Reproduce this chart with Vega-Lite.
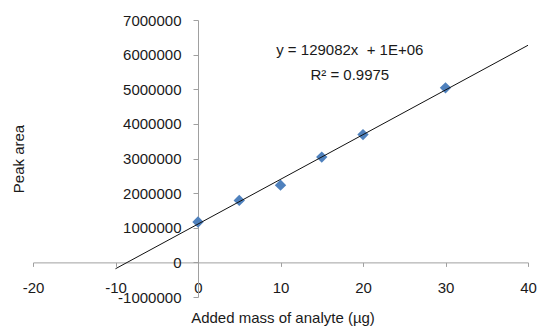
{
  "$schema": "https://vega.github.io/schema/vega-lite/v6.json",
  "width": 495,
  "height": 277,
  "autosize": {"type": "none"},
  "padding": {"left": 33, "top": 20, "right": 12, "bottom": 30},
  "background": "white",
  "config": {
    "view": {"stroke": null},
    "font": "Liberation Sans",
    "axis": {"grid": false, "domainColor": "#a0a0a0", "tickColor": "#a0a0a0", "labelColor": "#1a1a1a", "titleColor": "#1a1a1a", "labelFont": "Liberation Sans", "titleFont": "Liberation Sans", "labelFontSize": 15, "titleFontSize": 15, "titleFontWeight": "normal", "labelOverlap": false}
  },
  "datasets": {
    "points": [
      {"mass": 0, "area": 1165000},
      {"mass": 5, "area": 1790000},
      {"mass": 10, "area": 2230000},
      {"mass": 15, "area": 3040000},
      {"mass": 20, "area": 3690000},
      {"mass": 30, "area": 5040000}
    ],
    "trend": [
      {"mass": -10, "area": -183820},
      {"mass": 40, "area": 6270280}
    ],
    "notes": [
      {"label": "y = 129082x\u00a0 + 1E+06", "mass": 18.4, "area": 6130000},
      {"label": "R² = 0.9975", "mass": 18.4, "area": 5400000}
    ]
  },
  "layer": [
    {
      "data": {"name": "points"},
      "mark": {"type": "point", "shape": "diamond", "filled": true, "size": 130, "color": "#4f81bd", "opacity": 1},
      "encoding": {
        "x": {"field": "mass", "type": "quantitative",
          "scale": {"domain": [-20, 40], "nice": false, "zero": false},
          "axis": {"title": "Added mass of analyte (µg)", "values": [-20, -10, 0, 10, 20, 30, 40], "tickCount": 20, "labelExpr": "'' + datum.value", "labelOverlap": false, "offset": -34.6, "tickSize": 4, "labelPadding": 14, "labelFlush": false, "titleX": 249.5, "titleY": 55, "titleBaseline": "middle", "titleAnchor": null}},
        "y": {"field": "area", "type": "quantitative",
          "scale": {"domain": [-1000000, 7000000], "nice": false, "zero": false},
          "axis": {"title": "Peak area", "values": [-1000000, 0, 1000000, 2000000, 3000000, 4000000, 5000000, 6000000, 7000000], "tickCount": 20, "labelExpr": "'' + datum.value", "labelOverlap": false, "offset": -165, "tickSize": 5, "labelPadding": 12, "labelFlush": false, "titleX": -180, "titleY": 138.5, "titleAngle": -90, "titleBaseline": "middle", "titleAlign": "center"}}
      }
    },
    {
      "data": {"name": "trend"},
      "mark": {"type": "line", "color": "#111111", "strokeWidth": 1},
      "encoding": {
        "x": {"field": "mass", "type": "quantitative"},
        "y": {"field": "area", "type": "quantitative"}
      }
    },
    {
      "data": {"name": "notes"},
      "mark": {"type": "text", "fontSize": 15, "color": "#1a1a1a", "align": "center", "baseline": "middle", "font": "Liberation Sans"},
      "encoding": {
        "x": {"field": "mass", "type": "quantitative"},
        "y": {"field": "area", "type": "quantitative"},
        "text": {"field": "label"}
      }
    }
  ]
}
